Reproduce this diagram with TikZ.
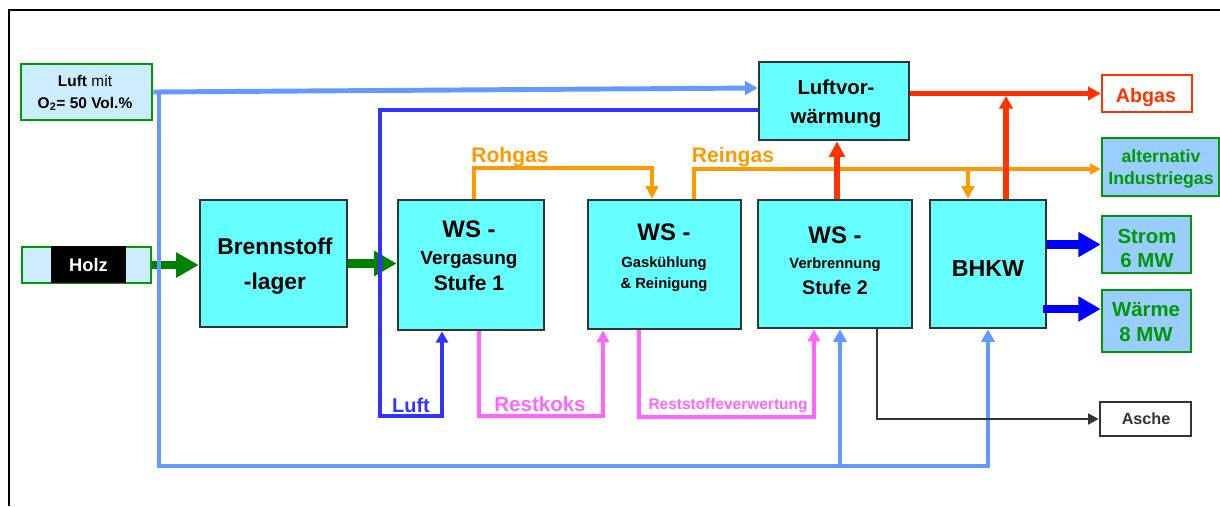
\documentclass[tikz,border=0pt]{standalone}
\usepackage{fontspec}
\setmainfont{Liberation Sans}
\usetikzlibrary{arrows.meta}

\definecolor{boxfill}{HTML}{66FFFF}
\definecolor{boxline}{HTML}{333333}
\definecolor{airblue}{HTML}{6699FF}
\definecolor{luftblue}{HTML}{3333FF}
\definecolor{powerblue}{HTML}{0000FF}
\definecolor{feedgreen}{HTML}{008000}
\definecolor{okgreen}{HTML}{009900}
\definecolor{palefill}{HTML}{CCECFF}
\definecolor{outfill}{HTML}{99CCFF}
\definecolor{gasorange}{HTML}{FF9900}
\definecolor{fluered}{HTML}{FF3300}
\definecolor{residpink}{HTML}{FF66FF}

\begin{document}
\begin{tikzpicture}[
  x=0.025cm, y=-0.025cm,
  sz/.style 2 args={minimum width=#1*0.025cm, minimum height=#2*0.025cm, inner sep=0pt},
  proc/.style={draw=boxline, fill=boxfill, line width=1.9pt},
  srcbox/.style={draw=okgreen, fill=palefill, line width=1.8pt},
  outbox/.style={draw=okgreen, fill=outfill, line width=1.8pt},
  txt/.style={align=center, inner sep=0pt},
  feed/.style={feedgreen, line width=6pt, -{Triangle[length=16pt,width=17pt]}},
  power/.style={powerblue, line width=6pt, -{Triangle[length=16pt,width=17pt]}},
  airline/.style={airblue, line width=3.5pt},
  airtip/.style={-{Triangle[length=9pt,width=9.5pt]}},
  luftline/.style={luftblue, line width=2.8pt, -{Triangle[length=8pt,width=8.5pt]}},
  gasline/.style={gasorange, line width=2.8pt},
  gastip/.style={-{Triangle[length=9pt,width=9pt]}},
  flue/.style={fluered, line width=3.9pt, -{Triangle[length=9pt,width=9.5pt]}},
  resid/.style={residpink, line width=2.5pt, -{Triangle[length=8.5pt,width=8.5pt]}},
  ashline/.style={boxline, line width=2.1pt, -{Triangle[length=7.5pt,width=7.5pt]}},
]
\useasboundingbox (0,0) rectangle (1220,506);

% frame
\draw[line width=1.5pt] (9,506) -- (9,10) -- (1220,10);

% ---------- boxes ----------
\node[srcbox, sz={131}{56}] (luft) at (86.5,92) {};
\node[srcbox, sz={129}{36}] (holz) at (86.5,265) {};
\node[fill=black, sz={75}{37}] (holzmark) at (88.5,264.5) {};

\node[proc, sz={147}{127}] (bsl)  at (273.5,263.5) {};
\node[proc, sz={146}{130}] (verg) at (471,265) {};
\node[proc, sz={153}{129}] (gk)   at (664.5,264.5) {};
\node[proc, sz={154}{128}] (vb)   at (835,264) {};
\node[proc, sz={116}{128}] (bhkw) at (988,264) {};
\node[proc, sz={150}{78}]  (lvw)  at (834,101) {};

\node[draw=fluered, fill=white, line width=1.8pt, sz={90}{37}] (abgas) at (1147,93.5) {};
\node[outbox, sz={117}{58}] (ind)    at (1160.5,167) {};
\node[outbox, sz={89}{57}]  (strom)  at (1146.5,244.5) {};
\node[outbox, sz={89}{62}]  (waerme) at (1146.5,321) {};
\node[draw=boxline, fill=white, line width=1.8pt, sz={91}{34}] (asche) at (1145.5,419) {};

% ---------- box texts ----------
\node[txt, font=\fontsize{11}{15.6}\selectfont] (luft-t) at (85,92.6)
  {\textbf{Luft} mit\\\textbf{O\textsubscript{2}= 50 Vol.\%}};
\node[txt, white, font=\bfseries\fontsize{13}{15}\selectfont] (holz-t) at (88.5,265) {Holz};

\node[txt, font=\bfseries\fontsize{16.2}{24.9}\selectfont] (bsl-t) at (275,266) {Brennstoff\\-lager};
\node[txt, font=\bfseries\fontsize{13.5}{18.7}\selectfont] (verg-t) at (469,256)
  {{\fontsize{17}{18.7}\selectfont WS -}\\Vergasung\\{\fontsize{15}{18.7}\selectfont Stufe 1}};
\node[txt, font=\bfseries\fontsize{10.5}{19.2}\selectfont] (gk-t) at (664,258)
  {{\fontsize{17}{19.2}\selectfont WS -}\\Gaskühlung\\[-4.2pt]\& Reinigung};
\node[txt, font=\bfseries\fontsize{10.5}{17.8}\selectfont] (vb-t) at (835,261)
  {{\fontsize{17}{17.8}\selectfont WS -}\\Verbrennung\\[0.7pt]{\fontsize{14}{17.8}\selectfont Stufe 2}};
\node[txt, anchor=base, font=\bfseries\fontsize{16.5}{20}\selectfont] (bhkw-t) at (988,276) {BHKW};
\node[txt, font=\bfseries\fontsize{14.5}{20.6}\selectfont] (lvw-t) at (836,104) {Luftvor-\\wärmung};

\node[txt, anchor=base, fluered, font=\bfseries\fontsize{14}{17}\selectfont] (abgas-t) at (1146,102) {Abgas};
\node[txt, okgreen, font=\bfseries\fontsize{12.6}{15.6}\selectfont] (ind-t) at (1161,169) {alternativ\\Industriegas};
\node[txt, okgreen, font=\bfseries\fontsize{14.5}{17}\selectfont] (strom-t) at (1147,248.5) {Strom\\6 MW};
\node[txt, okgreen, font=\bfseries\fontsize{14.5}{17.8}\selectfont] (waerme-t) at (1146,322) {Wärme\\8 MW};
\node[txt, anchor=base, boxline, font=\bfseries\fontsize{11.5}{14}\selectfont] (asche-t) at (1146,424) {Asche};

% ---------- flow labels ----------
\node[txt, anchor=base, gasorange, font=\bfseries\fontsize{15}{18}\selectfont] (rohgas) at (510,162) {Rohgas};
\node[txt, anchor=base, gasorange, font=\bfseries\fontsize{15}{18}\selectfont] (reingas) at (733,162) {Reingas};
\node[txt, anchor=base, luftblue, font=\bfseries\fontsize{14.2}{17}\selectfont] (luft-l) at (411,412) {Luft};
\node[txt, anchor=base, residpink, font=\bfseries\fontsize{14.6}{17}\selectfont] (restkoks) at (540,411) {Restkoks};
\node[txt, anchor=base, residpink, font=\bfseries\fontsize{11}{13}\selectfont] (reststoffe) at (728,409) {Reststoffeverwertung};

% ---------- fuel path ----------
\draw[feed] (holz.east) -- (bsl.west |- holz.east);
\draw[feed] (bsl.east) -- (verg.west |- bsl.east);

% ---------- oxygen-enriched air ----------
\draw[airline, airtip] (luft.east) -- (lvw.west |- 0,88);
\draw[airline, airtip, line join=miter] (159,92) -- (159,466) -- (bhkw.south |- 0,466) -- (bhkw.south);
\draw[airline, airtip] (840,466) -- (vb.south -| 840,0);

% preheated air to gasifier
\draw[luftline, line join=miter] (lvw.west |- 0,110) -- (380,110) -- (380,416) -- (442,416) -- (verg.south -| 442,0);

% ---------- gas ----------
\draw[gasline, gastip, line join=miter] (verg.north -| 474,0) -- (474,168) -- (652,168) -- (gk.north -| 652,0);
\draw[gasline, -{Triangle[length=7.5pt,width=7.5pt]}, line join=miter] (gk.north -| 694,0) -- (694,169) -- (ind.west |- 0,169);
\draw[gasline, gastip] (968,169) -- (bhkw.north -| 968,0);

% ---------- flue gas ----------
\draw[flue, -{Triangle[length=11pt,width=11pt]}] (vb.north -| 837,0) -- (lvw.south -| 837,0);
\draw[flue] (lvw.east |- abgas.west) -- (abgas.west);
\draw[flue] (bhkw.north -| 1006,0) -- (1006,96);

% ---------- residues ----------
\draw[resid, line join=miter] (verg.south -| 479,0) -- (479,416) -- (603,416) -- (gk.south -| 603,0);
\draw[resid, line join=miter] (gk.south -| 639,0) -- (639,417) -- (814,417) -- (vb.south -| 814,0);
\draw[ashline, line join=miter] (vb.south -| 877,0) -- (877,419) -- (asche.west);

% ---------- products ----------
\draw[power] (bhkw.east |- strom.west) -- (strom.west);
\draw[power] (1043,309) -- (waerme.west |- 0,309);
\end{tikzpicture}
\end{document}
